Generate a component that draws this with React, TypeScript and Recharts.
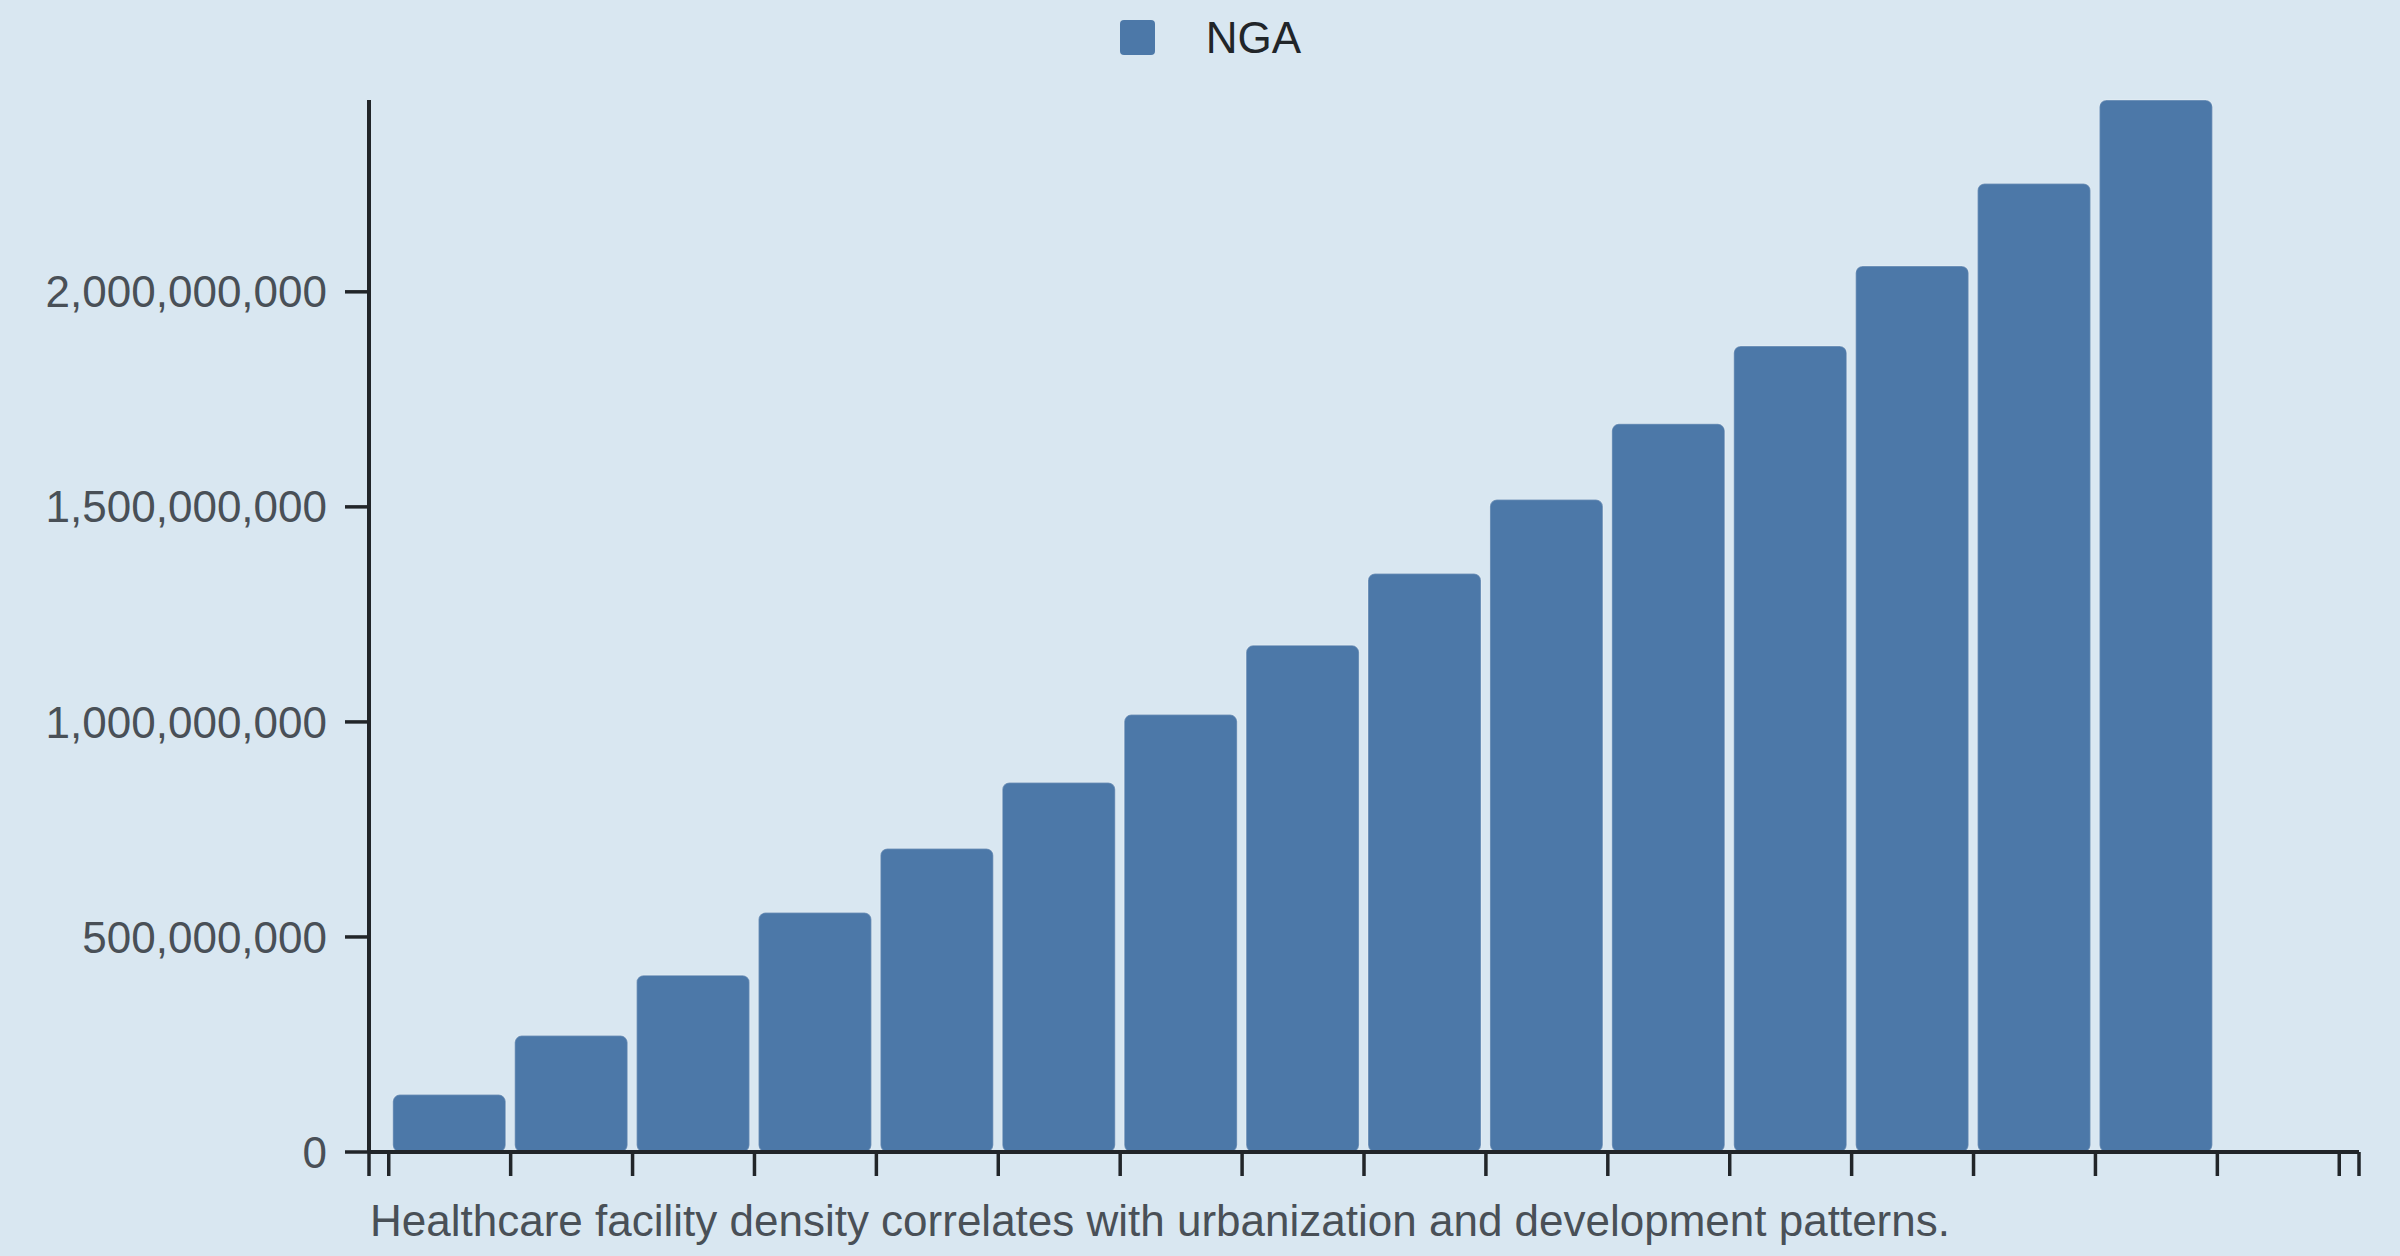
import { BarChart, Bar, XAxis, YAxis, Legend } from 'recharts'

// NGA series, one bar per period
const periods = [1, 2, 3, 4, 5, 6, 7, 8, 9, 10, 11, 12, 13, 14, 15]
const ngaValues = [
  133500000, 270700000, 411000000, 556700000, 705600000, 859000000, 1017000000,
  1178000000, 1345000000, 1517000000, 1693000000, 1874000000, 2060000000,
  2252000000, 2446000000,
]

// x ticks sit on the period boundaries, plus the two outer ends of the axis
const periodEdges = [0.5, 1.5, 2.5, 3.5, 4.5, 5.5, 6.5, 7.5, 8.5, 9.5, 10.5, 11.5, 12.5, 13.5, 14.5, 15.5, 16.5]
const xDomain = [0.338, 16.662]
const yTicks = [0, 500000000, 1000000000, 1500000000, 2000000000]

const seriesName = 'NGA'
const caption = 'Healthcare facility density correlates with urbanization and development patterns.'

const data = periods.map((p, i) => ({ period: p, value: ngaValues[i] }))

const BG = '#d9e7f1'
const BAR = '#4c78a8'
const AXIS = '#212529'
const FONT = '"Liberation Sans", Arial, sans-serif'

const LegendContent = () => (
  <div
    style={{
      height: 100,
      display: 'flex',
      justifyContent: 'center',
      alignItems: 'flex-start',
      paddingLeft: 21,
      boxSizing: 'border-box',
      fontFamily: FONT,
    }}
  >
    <div style={{ display: 'flex', alignItems: 'center', marginTop: 15.5 }}>
      <span style={{ width: 35, height: 35, background: BAR, borderRadius: 4, display: 'inline-block' }} />
      <span style={{ marginLeft: 51, fontSize: 44, lineHeight: '44px', color: AXIS }}>{seriesName}</span>
    </div>
  </div>
)

export default function App() {
  return (
    <div
      style={{
        position: 'fixed',
        left: 0,
        top: 0,
        width: 2400,
        height: 1256,
        background: BG,
        fontFamily: FONT,
      }}
    >
      <BarChart width={2400} height={1256} data={data} margin={{ top: 0, right: 41, left: 0, bottom: 44 }}>
        <Legend
          verticalAlign="top"
          content={<LegendContent />}
          wrapperStyle={{ left: 0, top: 0, width: 2400 }}
        />
        <XAxis
          dataKey="period"
          type="number"
          domain={xDomain}
          ticks={[xDomain[0], ...periodEdges, xDomain[1]]}
          interval={0}
          tickFormatter={() => ''}
          tickSize={24}
          height={60}
          axisLine={{ stroke: AXIS, strokeWidth: 4 }}
          tickLine={{ stroke: AXIS, strokeWidth: 3.5 }}
        />
        <YAxis
          domain={[0, 'dataMax']}
          ticks={yTicks}
          interval={0}
          width={369}
          tickSize={24}
          tickMargin={18}
          tickFormatter={(v) => v.toLocaleString('en-US')}
          tick={{ fill: '#495057', fontSize: 44, fontFamily: FONT }}
          axisLine={{ stroke: AXIS, strokeWidth: 4 }}
          tickLine={{ stroke: AXIS, strokeWidth: 3.5 }}
        />
        <Bar
          dataKey="value"
          name={seriesName}
          fill={BAR}
          barSize={113}
          radius={7}
          stroke="#ffffff"
          strokeOpacity={0.25}
          strokeWidth={1.5}
          isAnimationActive={false}
        />
      </BarChart>
      <div
        style={{
          position: 'absolute',
          left: 370,
          top: 1199,
          fontSize: 44,
          lineHeight: '44px',
          color: '#495057',
          whiteSpace: 'nowrap',
        }}
      >
        {caption}
      </div>
    </div>
  )
}
